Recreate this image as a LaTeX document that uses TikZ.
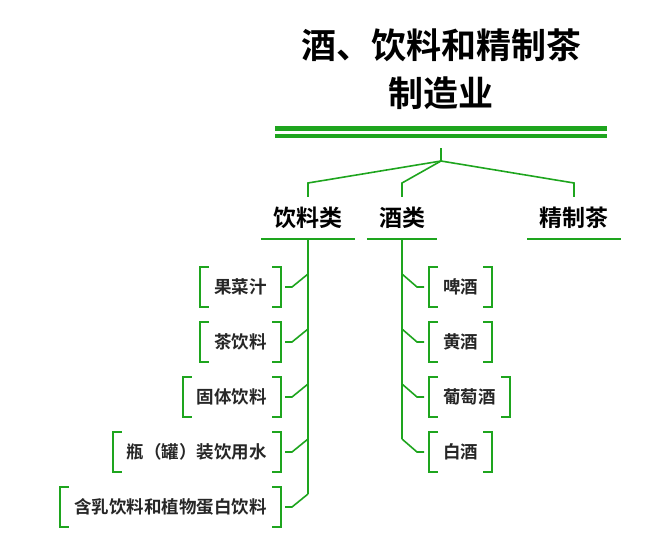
\documentclass[tikz,border=0pt]{standalone}
\usepackage{fontspec}
\newfontfamily\cjk{Noto Sans CJK SC}
\newfontfamily\cjkb{Noto Sans CJK SC Bold}
\definecolor{gr}{RGB}{30,165,30}
\begin{document}
\begin{tikzpicture}[x=1pt,y=-1pt,
  ln/.style={draw=gr,line width=1.6pt},
  br/.style={draw=gr,line width=2pt},
  cat/.style={font=\cjkb\fontsize{23}{26}\selectfont,inner xsep=12pt,inner ysep=0pt,minimum height=42pt},
  item/.style={font=\cjkb\fontsize{17.5}{20}\selectfont,inner xsep=14pt,inner ysep=0pt,minimum height=40pt,text=black!85}]
\useasboundingbox (0,0) rectangle (672,554);
% title
\node[font=\cjkb\fontsize{35}{48}\selectfont,align=center] (title) at (441,69) {酒、饮料和精制茶\\制造业};
\fill[gr] (275,125.7) rectangle (607,130.7);
\fill[gr] (275,133.7) rectangle (607,138.3);
\coordinate (h) at (441,148);
\coordinate (j) at (441,161);
% categories
\node[cat] (c1) at (308,218) {饮料类};
\node[cat] (c2) at (402,218) {酒类};
\node[cat] (c3) at (574,218) {精制茶};
\foreach \c in {c1,c2,c3}{\draw[ln] (\c.south west) -- (\c.south east);}
\draw[ln] (h) -- (j);
\draw[ln] (j) -- (308,183) -- (c1.north);
\draw[ln] (j) -- (402,183) -- (c2.north);
\draw[ln] (j) -- (574,183) -- (c3.north);
% drink items
\node[item,anchor=east] (g1) at (281,287) {果菜汁};
\node[item,anchor=east] (g2) at (281,342) {茶饮料};
\node[item,anchor=east] (g3) at (281,397) {固体饮料};
\node[item,anchor=east] (g4) at (281,452) {瓶（罐）装饮用水};
\node[item,anchor=east] (g5) at (281,507) {含乳饮料和植物蛋白饮料};
% wine items
\node[item,anchor=west] (w1) at (429,287) {啤酒};
\node[item,anchor=west] (w2) at (429,342) {黄酒};
\node[item,anchor=west] (w3) at (429,397) {葡萄酒};
\node[item,anchor=west] (w4) at (429,452) {白酒};
\foreach \n in {g1,g2,g3,g4,g5,w1,w2,w3,w4}{
  \draw[br] ([xshift=9pt]\n.north west) -| (\n.south west) -- ++(9pt,0);
  \draw[br] ([xshift=-9pt]\n.north east) -| (\n.south east) -- ++(-9pt,0);
}
% drink trunk
\foreach \i/\y in {1/274,2/329,3/384,4/439,5/494}{
  \coordinate (t\i) at (308,\y);
  \draw[ln,shorten <=4pt] (g\i.east) -- ++(11,0) -- (t\i);
}
\draw[ln] (c1.south) -- (t5);
% wine trunk
\foreach \i/\y in {1/274,2/329,3/384,4/439}{
  \coordinate (u\i) at (402,\y);
  \draw[ln,shorten <=5pt] (w\i.west) -- ++(-12,0) -- (u\i);
}
\draw[ln] (c2.south) -- (u4);
\end{tikzpicture}
\end{document}
